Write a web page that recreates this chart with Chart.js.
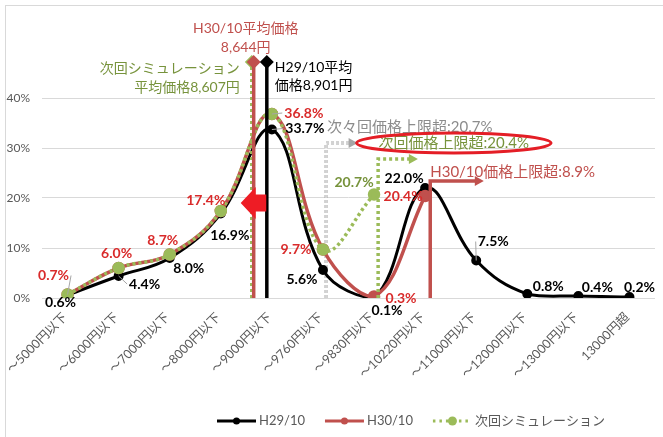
<!DOCTYPE html>
<html lang="ja">
<head>
<meta charset="UTF-8">
<title>価格帯別分布</title>
<script src="https://cdn.jsdelivr.net/npm/chart.js"></script>
<style>
  html, body { margin: 0; padding: 0; background: #fff; }
  #wrap { position: relative; width: 663px; height: 437px; }
</style>
</head>
<body>
<div id="wrap"><canvas id="chart"></canvas></div>
<script>
// --- data ---
const categories = ['～5000円以下', '～6000円以下', '～7000円以下', '～8000円以下', '～9000円以下', '～9760円以下',
  '～9830円以下', '～10220円以下', '～11000円以下', '～12000円以下', '～13000円以下', '13000円超'];
const priceBounds = [5000, 6000, 7000, 8000, 9000, 9760, 9830, 10220, 11000, 12000, 13000];
const h29 = [0.6, 4.4, 8.0, 16.9, 33.7, 5.6, 0.1, 22.0, 7.5, 0.8, 0.4, 0.2];
const h30 = [0.7, 6.0, 8.7, 17.4, 36.8, 9.7, 0.3, 20.4, null, null, null, null];
const sim = [0.7, 6.0, 8.7, 17.4, 36.8, 9.7, 20.7, null, null, null, null, null];
const seriesNames = ['H29/10', 'H30/10', '次回シミュレーション'];
const yTicks = [0, 10, 20, 30, 40];
// average prices (yen): H29/10, H30/10, next simulation
const meanPrices = [8901, 8644, 8607];
const meanLineTop = 47.2;
// share above price cap (%): 次々回, 次回, H30/10
const capShares = [20.7, 20.4, 8.9];
const capNames = ['次々回価格上限超', '次回価格上限超', 'H30/10価格上限超'];
const capPos = [5.06, 6.08, 7.1];
const capTop = [31, 27.8, 23.4];
const capLen = [0.54, 0.7, 0.97];

const FONT = "Lato, 'Noto Sans CJK JP', sans-serif";
const BLACK = '#000000', RED = '#c0504d', GREEN = '#9bbb59';
const RED_TXT = '#d92b2b', GREEN_TXT = '#77933c', GREY_TXT = '#595959';

// label offsets from point (px)
const h29Off = [[-7, 7], [26, 8], [19, 10], [9, 22], [33, -1], [-21, 9], [13, 13], [-21, -10], [17, -19], [21, -8], [19, -9], [10, -10]];
const h30Off = [[-14, -19], [-2, -15], [-7, -14], [-15, -11], [32, -1], [-27, 0], [27, 2], [-22, 0]];
const simOff = { 6: [-20, -12] };
const h29Leader = [1, 4, 8];
const h30Leader = [0, 4];

function pricePos(p) {
  for (let i = 0; i < priceBounds.length; i++) {
    if (p <= priceBounds[i]) {
      const lower = i === 0 ? priceBounds[0] - 1000 : priceBounds[i - 1];
      return i - 1 + (p - lower) / (priceBounds[i] - lower);
    }
  }
  return priceBounds.length - 1;
}
const pts = arr => arr.map((v, i) => ({ x: i, y: v }));
const vline = (pos, top) => [{ x: pos, y: 0 }, { x: pos, y: top }];
const capLine = i => [{ x: capPos[i], y: 0 }, { x: capPos[i], y: capTop[i] }, { x: capPos[i] + capLen[i], y: capTop[i] }];

Chart.defaults.font.family = FONT;

const datasets = [
  { label: seriesNames[0], data: pts(h29), borderColor: BLACK, backgroundColor: BLACK, borderWidth: 3,
    pointRadius: 3.5, tension: 0.4, order: 5 },
  { label: seriesNames[1], data: pts(h30), borderColor: RED, backgroundColor: RED, borderWidth: 3.5,
    pointRadius: 4.5, tension: 0.4, order: 4 },
  { label: seriesNames[2], data: pts(sim), borderColor: GREEN, backgroundColor: GREEN, borderWidth: 3.5,
    borderDash: [3, 3], pointRadius: 4.5, tension: 0.4, order: 3 },
  // average price lines
  { data: vline(pricePos(meanPrices[2]), meanLineTop), borderColor: GREEN, backgroundColor: GREEN, borderWidth: 3.5,
    borderDash: [3, 3], pointRadius: [0, 4.5], pointStyle: 'rectRot', order: 2 },
  { data: vline(pricePos(meanPrices[1]), meanLineTop), borderColor: RED, backgroundColor: RED, borderWidth: 3.5,
    pointRadius: [0, 4.5], pointStyle: 'rectRot', order: 1 },
  { data: vline(pricePos(meanPrices[0]), meanLineTop), borderColor: BLACK, backgroundColor: BLACK, borderWidth: 3.5,
    pointRadius: [0, 4.5], pointStyle: 'rectRot', order: 0 },
  // cap lines
  { data: capLine(0), borderColor: '#a6a6a6', borderWidth: 3, borderDash: [3, 2], pointRadius: 0, order: 6 },
  { data: capLine(0), borderColor: '#ffffff', borderWidth: 1, pointRadius: 0, order: 5.5 },
  { data: capLine(1), borderColor: GREEN, borderWidth: 3.5, borderDash: [3, 3], pointRadius: 0, order: 2 },
  { data: capLine(2), borderColor: RED, borderWidth: 3.5, pointRadius: 0, order: 2 }
];

function fmt(v) { return v.toFixed(1) + '%'; }

const annot = {
  id: 'annot',
  afterDatasetsDraw(chart) {
    const { ctx, scales: { x, y } } = chart;
    ctx.save();
    // arrow heads on cap lines
    const capCols = ['#a6a6a6', GREEN, RED];
    capPos.forEach((p, i) => {
      const xe = x.getPixelForValue(p + capLen[i]), ye = y.getPixelForValue(capTop[i]);
      ctx.fillStyle = capCols[i];
      ctx.beginPath();
      ctx.moveTo(xe + 4, ye); ctx.lineTo(xe - 5, ye - 5); ctx.lineTo(xe - 5, ye + 5); ctx.closePath();
      ctx.fill();
    });

    // big red arrow (shift of the average)
    const tipX = x.getPixelForValue(3.39), tailX = x.getPixelForValue(3.89), cy = y.getPixelForValue(19);
    ctx.fillStyle = '#ee1c25';
    ctx.beginPath();
    ctx.moveTo(tipX, cy);
    ctx.lineTo(tipX + 15, cy - 16);
    ctx.lineTo(tipX + 15, cy - 8.5);
    ctx.lineTo(tailX, cy - 8.5);
    ctx.lineTo(tailX, cy + 8.5);
    ctx.lineTo(tipX + 15, cy + 8.5);
    ctx.lineTo(tipX + 15, cy + 16);
    ctx.closePath();
    ctx.fill();

    // data labels
    ctx.font = 'bold 14px ' + FONT;
    ctx.textBaseline = 'middle';
    ctx.textAlign = 'center';
    const drawLabels = (arr, off, color, leaders) => {
      arr.forEach((v, i) => {
        if (v === null || !off[i]) return;
        const px = x.getPixelForValue(i), py = y.getPixelForValue(v);
        const cx = px + off[i][0], cyy = py + off[i][1];
        const t = fmt(v), w = ctx.measureText(t).width;
        if (leaders.includes(i)) {
          ctx.strokeStyle = '#a6a6a6'; ctx.lineWidth = 1;
          ctx.beginPath();
          ctx.moveTo(px, py);
          ctx.lineTo(off[i][0] > 0 ? cx - w / 2 - 2 : cx + w / 2 + 2, cyy);
          ctx.stroke();
        }
        ctx.fillStyle = color;
        ctx.fillText(t, cx, cyy);
      });
    };
    drawLabels(h29, h29Off, '#000000', h29Leader);
    drawLabels(h30, h30Off, RED_TXT, h30Leader);
    drawLabels(sim, simOff, GREEN_TXT, []);

    // average price texts
    const top = y.getPixelForValue(meanLineTop);
    const xB = x.getPixelForValue(pricePos(meanPrices[0]));
    const xR = x.getPixelForValue(pricePos(meanPrices[1]));
    const xG = x.getPixelForValue(pricePos(meanPrices[2]));
    const yen = v => v.toLocaleString('en-US') + '円';
    ctx.font = '14px ' + FONT;
    ctx.fillStyle = RED; ctx.textAlign = 'center';
    ctx.fillText('H30/10平均価格', xR - 8, top - 34);
    ctx.fillText(yen(meanPrices[1]), xR - 8, top - 15);
    ctx.fillStyle = GREEN_TXT; ctx.textAlign = 'right';
    ctx.fillText('次回シミュレーション', xG - 12, top + 6);
    ctx.fillText('平均価格' + yen(meanPrices[2]), xG - 12, top + 25);
    ctx.fillStyle = '#000000'; ctx.textAlign = 'left';
    ctx.fillText('H29/10平均', xB + 8, top + 5);
    ctx.fillText('価格' + yen(meanPrices[0]), xB + 8, top + 23);

    // cap texts
    ctx.font = '15px ' + FONT;
    const gx = x.getPixelForValue(capPos[0]), gy = y.getPixelForValue(capTop[0]);
    ctx.fillStyle = '#8c8c8c';
    ctx.fillText(capNames[0] + ':' + capShares[0].toFixed(1) + '%', gx + 1, gy - 16);
    const t1 = capNames[1] + ':' + capShares[1].toFixed(1) + '%';
    const t1x = x.getPixelForValue(capPos[0] + capLen[0]) + 25, w1 = ctx.measureText(t1).width;
    ctx.fillStyle = GREEN_TXT;
    ctx.fillText(t1, t1x, gy);
    ctx.strokeStyle = '#e41e26'; ctx.lineWidth = 3;
    ctx.beginPath();
    ctx.ellipse(t1x + w1 / 2, gy, w1 / 2 + 22, 10, 0, 0, Math.PI * 2);
    ctx.stroke();
    const rx = x.getPixelForValue(capPos[2]), ry = y.getPixelForValue(capTop[2]);
    ctx.fillStyle = RED;
    ctx.fillText(capNames[2] + ':' + capShares[2].toFixed(1) + '%', rx, ry - 9);
    ctx.restore();
  },
  afterDraw(chart) {
    const { ctx, scales: { x, y } } = chart;
    ctx.save();
    // outer frame
    ctx.strokeStyle = '#d9d9d9'; ctx.lineWidth = 1;
    ctx.strokeRect(5.5, 5.5, 700, 500);
    // rotated category labels
    ctx.font = '12.5px ' + FONT;
    ctx.fillStyle = GREY_TXT;
    ctx.textAlign = 'right';
    ctx.textBaseline = 'middle';
    const base = y.getPixelForValue(0);
    categories.forEach((c, i) => {
      ctx.save();
      ctx.translate(x.getPixelForValue(i) - 2.5, base + 17);
      ctx.rotate(-Math.PI / 4);
      ctx.fillText(c, 0, 0);
      ctx.restore();
    });
    // legend
    const ly = 421;
    let lx = 217;
    const styles = [
      { c: BLACK, dash: [], r: 3.5 },
      { c: RED, dash: [], r: 3.5 },
      { c: GREEN, dash: [2.5, 4], r: 4.5 }
    ];
    ctx.font = '13px ' + FONT;
    ctx.textBaseline = 'middle';
    seriesNames.forEach((name, i) => {
      const s = styles[i];
      ctx.strokeStyle = s.c; ctx.lineWidth = 3; ctx.setLineDash(s.dash);
      ctx.beginPath(); ctx.moveTo(lx, ly); ctx.lineTo(lx + 39, ly); ctx.stroke();
      ctx.setLineDash([]);
      ctx.fillStyle = s.c;
      ctx.beginPath(); ctx.arc(lx + 19.5, ly, s.r, 0, Math.PI * 2); ctx.fill();
      ctx.fillStyle = GREY_TXT; ctx.textAlign = 'left';
      ctx.fillText(name, lx + 42, ly);
      lx += 42 + ctx.measureText(name).width + 20;
    });
    ctx.restore();
  }
};

new Chart(document.getElementById('chart'), {
  type: 'line',
  data: { datasets },
  plugins: [annot],
  options: {
    responsive: true,
    maintainAspectRatio: false,
    animation: false,
    layout: { padding: { top: 18, left: 0, right: 0, bottom: 59 } },
    plugins: { legend: { display: false }, tooltip: { enabled: false } },
    scales: {
      x: {
        type: 'linear', min: -0.5, max: 11.5,
        afterBuildTicks: s => { s.ticks = categories.map((_, i) => ({ value: i })); },
        afterFit: s => { s.height = 80; s.paddingLeft = 0; s.paddingRight = 0; },
        grid: { display: false, drawTicks: false },
        border: { display: false },
        ticks: { display: false }
      },
      y: {
        min: 0, max: 56,
        afterBuildTicks: s => { s.ticks = yTicks.map(v => ({ value: v })); },
        afterFit: s => { s.width = 42; s.paddingTop = 0; s.paddingBottom = 0; },
        grid: { color: '#d9d9d9', drawTicks: false },
        border: { display: false },
        ticks: { callback: v => v + '%', color: GREY_TXT, font: { size: 12 }, padding: 12 }
      }
    }
  }
});
</script>
</body>
</html>
